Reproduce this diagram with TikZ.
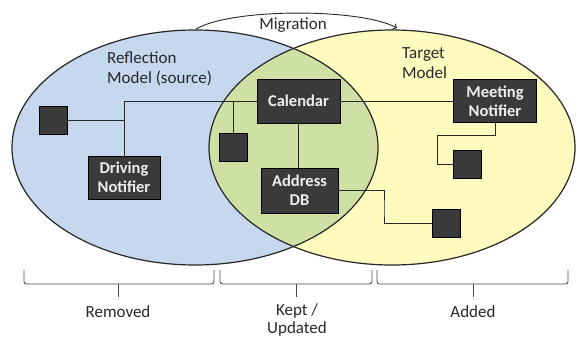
\documentclass[tikz,border=0pt]{standalone}
\usepackage{fontspec}
\setmainfont{Carlito}
\usetikzlibrary{arrows.meta}
\definecolor{blueF}{RGB}{197,216,238}
\definecolor{yellowF}{RGB}{255,251,191}
\definecolor{greenF}{RGB}{207,224,165}
\definecolor{boxF}{RGB}{58,58,58}
\definecolor{boxT}{RGB}{238,238,238}
\definecolor{ink}{RGB}{40,40,40}
\begin{document}
\begin{tikzpicture}[x=1pt,y=-1pt,
  comp/.style={draw=black, line width=0.8pt, fill=boxF, text=boxT,
    font=\fontsize{16.5}{19}\selectfont\bfseries, align=center, inner sep=0pt},
  sq/.style={draw=black, line width=0.8pt, fill=boxF, minimum width=28pt,
    minimum height=28pt, inner sep=0pt},
  conn/.style={draw=ink, line width=0.9pt},
  lbl/.style={text=ink, font=\fontsize{17}{20}\selectfont, inner sep=0pt},
  brk/.style={draw=ink!85, line width=0.9pt, rounded corners=2.5pt},
  oval/.style={draw=black!85, line width=1.2pt}]
\useasboundingbox (0,0) rectangle (578,340);
% ellipses
\fill[blueF] (195,147.5) ellipse [x radius=183, y radius=117.5];
\fill[yellowF] (392,147.5) ellipse [x radius=183, y radius=117.5];
\begin{scope}
  \clip (195,147.5) ellipse [x radius=183, y radius=117.5];
  \fill[greenF] (392,147.5) ellipse [x radius=183, y radius=117.5];
\end{scope}
\draw[oval] (195,147.5) ellipse [x radius=183, y radius=117.5];
\draw[oval] (392,147.5) ellipse [x radius=183, y radius=117.5];
% migration arc
\coordinate (mA) at (196,29);
\coordinate (mB) at (397,28);
\draw[draw=ink, line width=0.9pt, -{Straight Barb[length=3pt,width=6pt]}]
  (mA) .. controls (232,8) and (360,8) .. (mB);
\node[lbl, anchor=base] (mig) at (293,29) {Migration};
% titles
\node[lbl, anchor=base west] (refl1) at (107,63) {Reflection};
\node[lbl, anchor=base west] (refl2) at (107,83) {Model (source)};
\node[lbl, anchor=base west] (targ1) at (402,58) {Target};
\node[lbl, anchor=base west] (targ2) at (402,78) {Model};
% components
\node[comp, minimum width=83pt, minimum height=44pt] (cal) at (298.5,101) {Calendar};
\node[comp, minimum width=83pt, minimum height=43pt] (meet) at (495,101) {Meeting\\Notifier};
\node[comp, minimum width=72pt, minimum height=43pt] (drive) at (124,177.5) {Driving\\Notifier};
\node[comp, minimum width=77pt, minimum height=45pt] (addr) at (299.5,190.5) {Address\\DB};
\node[sq] (sqL) at (53,120) {};
\node[sq] (sqM) at (233,147) {};
\node[sq] (sqR1) at (467.5,164) {};
\node[sq] (sqR2) at (446,223.5) {};
% connectors
\draw[conn] (cal.west) -| (drive.north);
\draw[conn] (sqL.east) -- (sqL.east -| drive.north);
\draw[conn] (sqM.north) -- (sqM.north |- cal.west);
\draw[conn] (cal.south) -- (cal.south |- addr.north);
\draw[conn] (cal.east) -- (meet.west);
\coordinate (r1) at (437,135);
\draw[conn] (meet.south) |- (r1) |- (sqR1.west);
\coordinate (r2) at (384,210);
\draw[conn] (addr.east) -| (r2) |- (sqR2.west);
% brackets
\draw[brk] (24,270) -- (24,284) -- (214,284) -- (214,270);
\draw[brk] (118,284) -- (118,297);
\draw[brk] (220,270) -- (220,284) -- (372,284) -- (372,270);
\draw[brk] (296,284) -- (296,297);
\draw[brk] (377,270) -- (377,284) -- (568,284) -- (568,270);
\draw[brk] (473,284) -- (473,297);
\node[lbl] (rem) at (118,312) {Removed};
\node[lbl] (kept1) at (297,311) {Kept /};
\node[lbl] (kept2) at (297,329) {Updated};
\node[lbl] (add) at (473,312) {Added};
\end{tikzpicture}
\end{document}
